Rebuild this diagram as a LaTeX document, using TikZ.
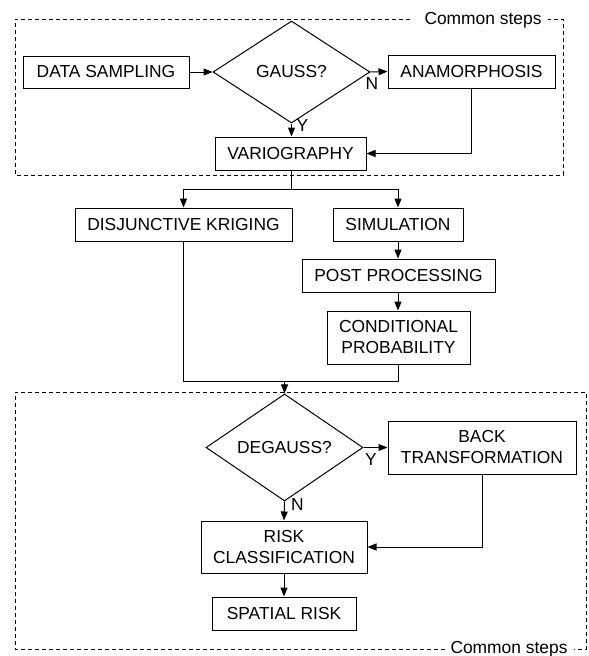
\documentclass[tikz,border=0pt]{standalone}
\usepackage{fontspec}
\setmainfont{Liberation Sans}
\usetikzlibrary{shapes.geometric,arrows.meta}
\newcommand\myfs{\fontsize{17.4}{21}\selectfont}
\begin{document}
\begin{tikzpicture}[x=1pt,y=-1pt,
  box/.style={draw, line width=1pt, rectangle, inner sep=0pt, align=center, font=\myfs},
  dia/.style={draw, line width=1pt, diamond, inner sep=0pt, font=\myfs},
  arr/.style={-{Triangle[length=9pt,width=7pt]}, line width=1pt},
  lnk/.style={line width=1pt},
  dsh/.style={line width=1pt, dash pattern=on 4pt off 3pt},
  lbl/.style={font=\myfs, inner sep=0pt}]
\useasboundingbox (0,0) rectangle (589,656);

% dashed group boxes
\draw[dsh] (410,19) -- (15,19) -- (15,175) -- (563,175) -- (563,19) -- (548,19);
\node[lbl, anchor=base] (cs1) at (483,24) {Common steps};
\draw[dsh] (445,649) -- (15,649) -- (15,392) -- (586,392) -- (586,649) -- (574,649);
\node[lbl, anchor=base] (cs2) at (509,653) {Common steps};

% nodes
\node[box, minimum width=166pt, minimum height=32pt] (ds) at (106,72) {DATA SAMPLING};
\node[dia, minimum width=157pt, minimum height=102pt] (gauss) at (291.5,72) {GAUSS?};
\node[box, minimum width=167pt, minimum height=33pt] (ana) at (471.5,71.5) {ANAMORPHOSIS};
\node[box, minimum width=151pt, minimum height=33pt] (vario) at (290.5,153.5) {VARIOGRAPHY};
\node[box, minimum width=217pt, minimum height=33pt] (dk) at (183.5,224.5) {DISJUNCTIVE KRIGING};
\node[box, minimum width=130pt, minimum height=33pt] (sim) at (398,224.5) {SIMULATION};
\node[box, minimum width=193pt, minimum height=33pt] (pp) at (398.5,275.5) {POST PROCESSING};
\node[box, minimum width=143pt, minimum height=53pt] (cp) at (398.5,337.5) {CONDITIONAL\\PROBABILITY};
\node[dia, minimum width=157pt, minimum height=99pt] (degauss) at (284.5,447.5) {DEGAUSS?};
\node[box, minimum width=188pt, minimum height=53pt] (bt) at (482,447.5) {BACK\\TRANSFORMATION};
\node[box, minimum width=166pt, minimum height=52pt] (risk) at (284,547) {RISK\\CLASSIFICATION};
\node[box, minimum width=144pt, minimum height=33pt] (sr) at (284,613.5) {SPATIAL RISK};

% labels
\node[lbl] (n1) at (372,84) {N};
\node[lbl] (y1) at (302.5,126) {Y};
\node[lbl] (y2) at (371,460) {Y};
\node[lbl] (n2) at (297.5,504.5) {N};

% connectors
\coordinate (bs) at (291,189);
\coordinate (mg) at (284.5,381);
\draw[arr] (ds.east) -- (gauss.west);
\draw[arr] (gauss.east) -- (ana.west);
\draw[arr] (gauss.south) -- (gauss.south |- vario.north);
\draw[arr] (ana.south) |- (vario.east);
\draw[lnk] (vario.south -| bs) -- (bs);
\draw[arr] (bs) -| (dk.north);
\draw[arr] (bs) -| (sim.north);
\draw[arr] (sim.south) -- (pp.north -| sim.south);
\draw[arr] (pp.south -| sim.south) -- (cp.north -| sim.south);
\draw[lnk] (dk.south) |- (mg);
\draw[lnk] (cp.south -| sim.south) |- (mg);
\draw[arr] (mg) -- (degauss.north);
\draw[arr] (degauss.east) -- (bt.west);
\draw[arr] (degauss.south) -- (risk.north);
\draw[arr] (bt.south) |- (risk.east);
\draw[arr] (risk.south) -- (sr.north);
\end{tikzpicture}
\end{document}
